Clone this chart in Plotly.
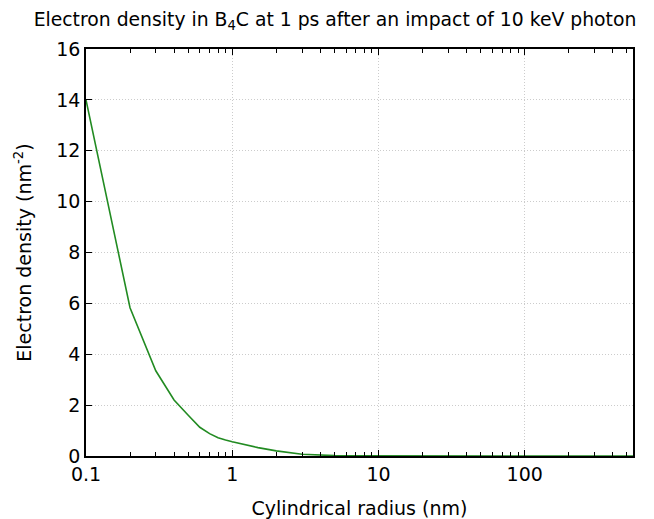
import plotly.graph_objects as go
import math

radius_nm = [0.1, 0.2, 0.3, 0.4, 0.5, 0.6, 0.7, 0.8, 0.9, 1.0, 1.5, 2.0, 3.0, 4.0, 5.0, 7.0, 10.0, 20.0, 50.0, 100.0, 200.0, 550.0]
density = [14.0, 5.83, 3.35, 2.2, 1.6, 1.13, 0.88, 0.72, 0.63, 0.56, 0.33, 0.2, 0.07, 0.03, 0.015, 0.006, 0.002, 0.0, 0.0, 0.0, 0.0, 0.0]

x_tickvals = [0.1, 1, 10, 100]
x_ticktext = ["0.1", "1", "10", "100"]
y_tickvals = [0, 2, 4, 6, 8, 10, 12, 14, 16]

title_text = "Electron density in B<sub>4</sub>C at 1 ps after an impact of 10 keV photon"
x_title = "Cylindrical radius (nm)"
y_title = "Electron density (nm<sup>-2</sup>)"

FONT = "DejaVu Sans, sans-serif"

fig = go.Figure()
fig.add_trace(go.Scatter(
    x=radius_nm, y=density, mode="lines",
    line=dict(color="#228b22", width=1.6),
    showlegend=False,
))

fig.update_layout(
    width=654, height=519,
    margin=dict(l=78, r=29, t=41, b=71),
    paper_bgcolor="white", plot_bgcolor="white",
    font=dict(family=FONT, size=19, color="black"),
    title=dict(text=title_text, x=0.5, xanchor="center", y=0.978, yanchor="middle",
               font=dict(family=FONT, size=18.8, color="black")),
)

fig.update_xaxes(
    type="log", range=[-1, math.log10(550)],
    tickvals=x_tickvals, ticktext=x_ticktext,
    ticks="inside", ticklen=6, tickwidth=1, tickcolor="black",
    showline=True, linecolor="black", linewidth=1.5, mirror="ticks",
    showgrid=True, gridcolor="#cccccc", griddash="1px,2px", gridwidth=1,
    minor=dict(ticks="inside", ticklen=4, tickcolor="black", dtick="D1", showgrid=False),
    title=dict(text=x_title, standoff=18, font=dict(size=19)),
    tickfont=dict(size=19), zeroline=False,
)
fig.update_yaxes(
    range=[0, 16], tickvals=y_tickvals,
    ticks="inside", ticklen=6, tickwidth=1, tickcolor="black",
    showline=True, linecolor="black", linewidth=1.5, mirror=True,
    showgrid=True, gridcolor="#cccccc", griddash="1px,2px", gridwidth=1,
    title=dict(text=y_title, standoff=20, font=dict(size=19)),
    tickfont=dict(size=19), zeroline=False,
)

fig.write_html("out.html")
